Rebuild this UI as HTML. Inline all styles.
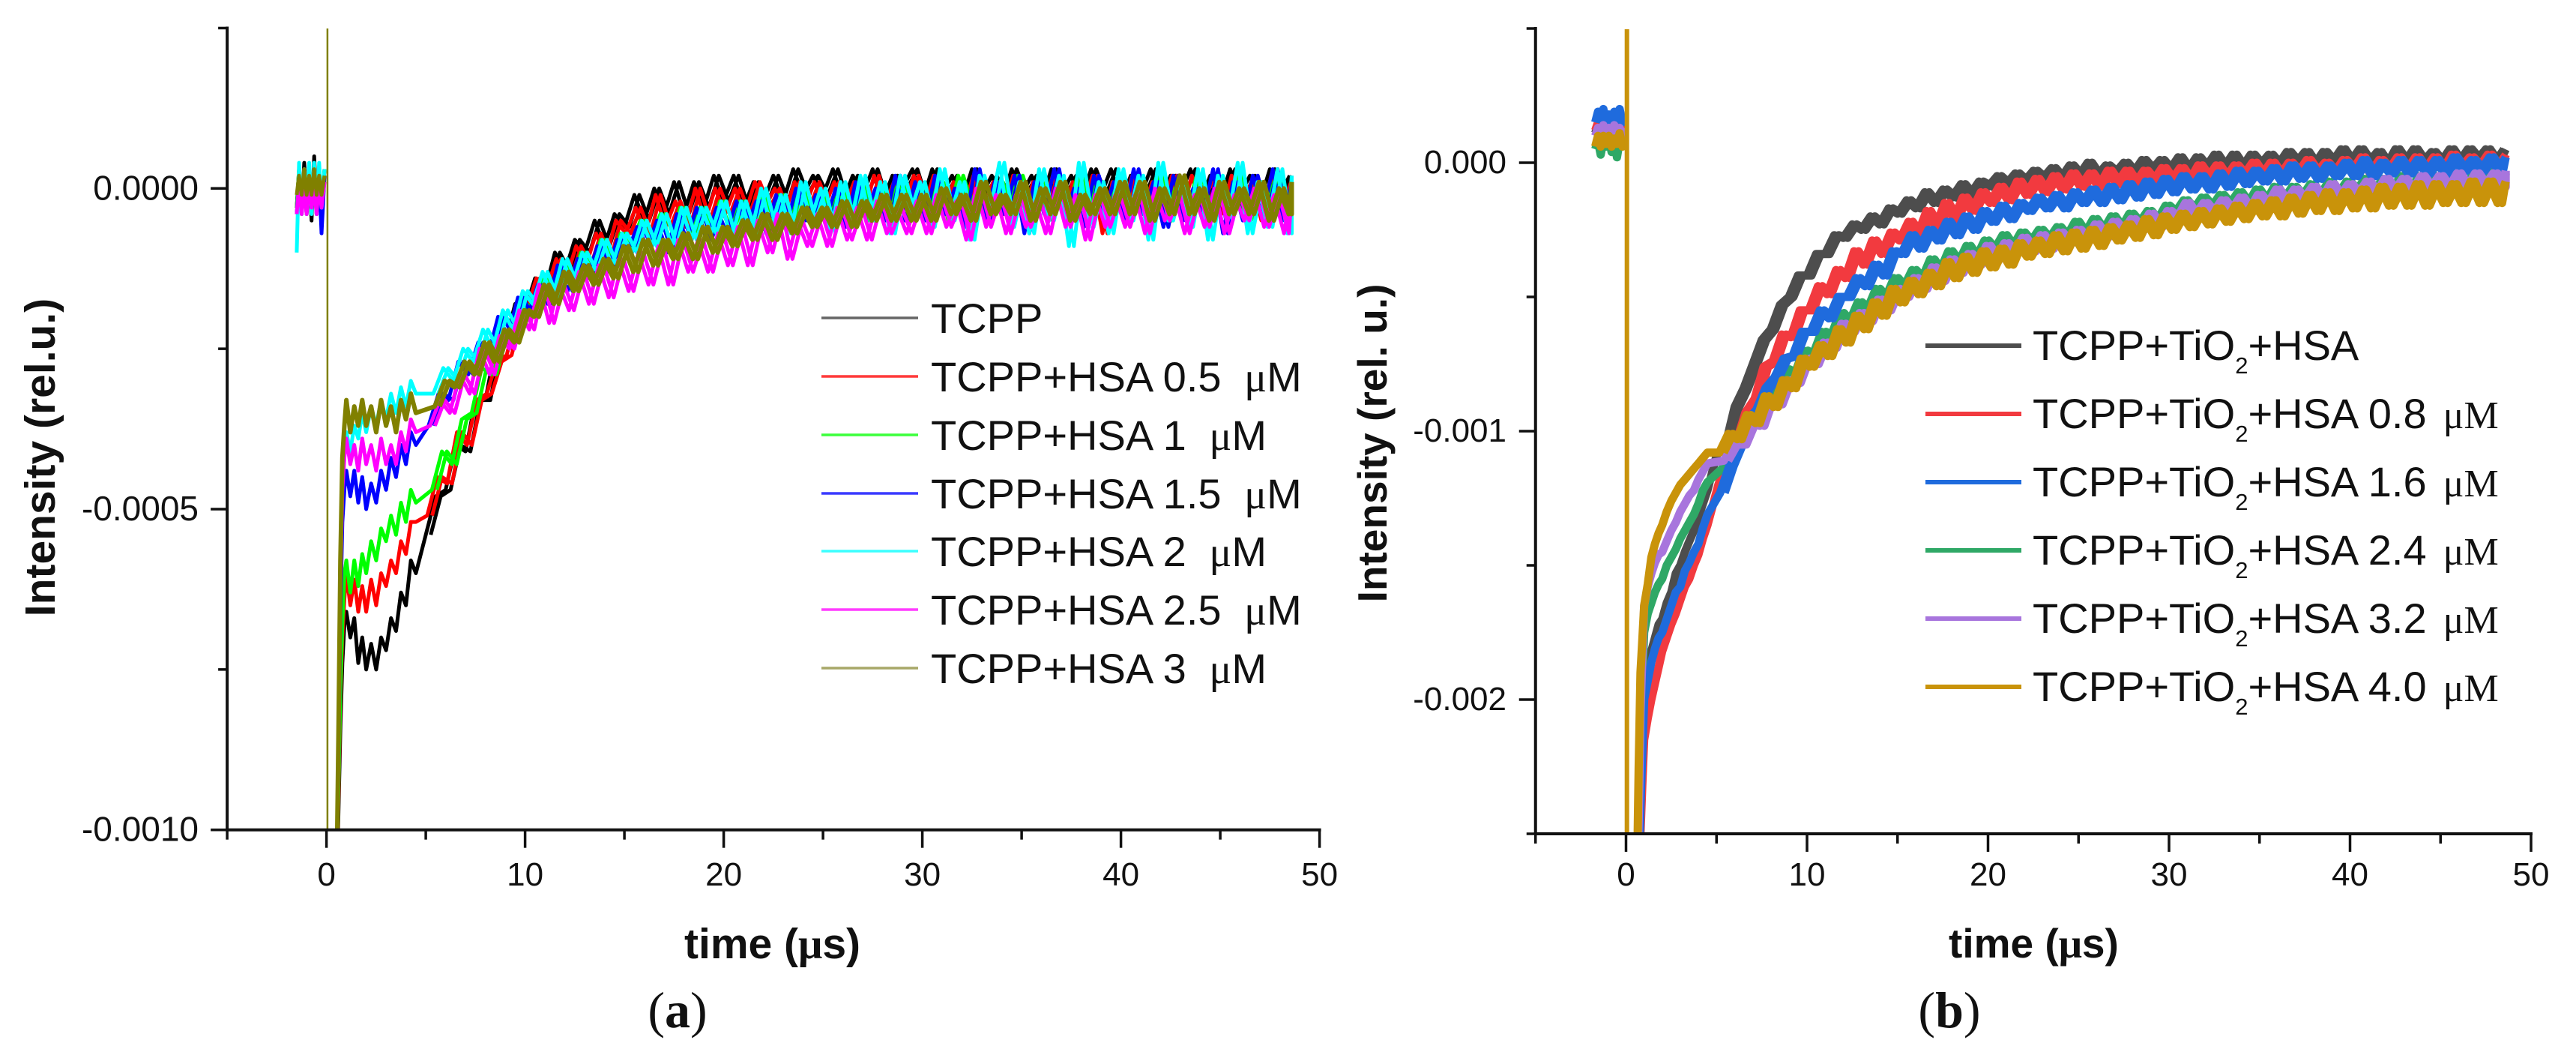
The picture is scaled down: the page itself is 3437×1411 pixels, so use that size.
<!DOCTYPE html>
<html lang="en">
<head>
<meta charset="utf-8">
<title>Transient absorption kinetics of TCPP with HSA</title>
<style>
html,body{margin:0;padding:0;background:#fff;width:3437px;height:1411px;overflow:hidden;}
svg{display:block;}
text{font-family:"Liberation Sans",sans-serif;fill:#111;}
.serif{font-family:"Liberation Serif",serif;}
</style>
</head>
<body>
<svg id="figure" xmlns="http://www.w3.org/2000/svg" width="3437" height="1411" viewBox="0 0 3437 1411">
<defs>
<clipPath id="clip-a"><rect x="304" y="38" width="1457" height="1069"/></clipPath>
<clipPath id="clip-b"><rect x="2048" y="39" width="1330" height="1072"/></clipPath>
</defs>
<g id="marks-a" clip-path="url(#clip-a)"></g>
<g id="marks-b" clip-path="url(#clip-b)"></g>
<g id="axes-a"></g>
<g id="axes-b"></g>

<text transform="translate(73 610) rotate(-90)" text-anchor="middle" font-size="57" font-weight="700">Intensity (rel.u.)</text>
<text x="913" y="1278" font-size="57" font-weight="700">time (<tspan class="serif">μ</tspan>s)</text>
<text x="904" y="1370" text-anchor="middle" font-size="68" class="serif" style="font-family:'Liberation Serif',serif">(<tspan font-weight="700">a</tspan>)</text>

<text transform="translate(1850 591) rotate(-90)" text-anchor="middle" font-size="55" font-weight="700">Intensity (rel. u.)</text>
<text x="2600" y="1277" font-size="55" font-weight="700">time (<tspan class="serif">μ</tspan>s)</text>
<text x="2601" y="1370" text-anchor="middle" font-size="68" class="serif" style="font-family:'Liberation Serif',serif">(<tspan font-weight="700">b</tspan>)</text>

<g font-size="56">
<line x1="1096" x2="1225" y1="424" y2="424" stroke="#666" stroke-width="3.5"/>
<text x="1242" y="444" font-size="56">TCPP</text>
<line x1="1096" x2="1225" y1="502" y2="502" stroke="#ff3a3a" stroke-width="3.5"/>
<text x="1242" y="522" font-size="56">TCPP+HSA 0.5 <tspan class="serif" dx="15">μ</tspan>M</text>
<line x1="1096" x2="1225" y1="580" y2="580" stroke="#3cff3c" stroke-width="3.5"/>
<text x="1242" y="600" font-size="56">TCPP+HSA 1 <tspan class="serif" dx="15">μ</tspan>M</text>
<line x1="1096" x2="1225" y1="658" y2="658" stroke="#3a3aff" stroke-width="3.5"/>
<text x="1242" y="678" font-size="56">TCPP+HSA 1.5 <tspan class="serif" dx="15">μ</tspan>M</text>
<line x1="1096" x2="1225" y1="735" y2="735" stroke="#3cffff" stroke-width="3.5"/>
<text x="1242" y="755" font-size="56">TCPP+HSA 2 <tspan class="serif" dx="15">μ</tspan>M</text>
<line x1="1096" x2="1225" y1="813" y2="813" stroke="#ff3cff" stroke-width="3.5"/>
<text x="1242" y="833" font-size="56">TCPP+HSA 2.5 <tspan class="serif" dx="15">μ</tspan>M</text>
<line x1="1096" x2="1225" y1="891" y2="891" stroke="#a8a868" stroke-width="3.5"/>
<text x="1242" y="911" font-size="56">TCPP+HSA 3 <tspan class="serif" dx="15">μ</tspan>M</text>
</g>

<g>
<line x1="2569" x2="2697" y1="461" y2="461" stroke="#4d4d4d" stroke-width="6"/>
<text x="2712" y="480" font-size="56">TCPP+TiO<tspan font-size="31" dy="18">2</tspan><tspan dy="-18">+HSA</tspan></text>
<line x1="2569" x2="2697" y1="552" y2="552" stroke="#f23a3f" stroke-width="6"/>
<text x="2712" y="571" font-size="56">TCPP+TiO<tspan font-size="31" dy="18">2</tspan><tspan dy="-18">+HSA 0.8</tspan><tspan class="serif" font-size="52" dx="22">μM</tspan></text>
<line x1="2569" x2="2697" y1="643" y2="643" stroke="#1f6bdd" stroke-width="6"/>
<text x="2712" y="662" font-size="56">TCPP+TiO<tspan font-size="31" dy="18">2</tspan><tspan dy="-18">+HSA 1.6</tspan><tspan class="serif" font-size="52" dx="22">μM</tspan></text>
<line x1="2569" x2="2697" y1="734" y2="734" stroke="#2fa866" stroke-width="6"/>
<text x="2712" y="753" font-size="56">TCPP+TiO<tspan font-size="31" dy="18">2</tspan><tspan dy="-18">+HSA 2.4</tspan><tspan class="serif" font-size="52" dx="22">μM</tspan></text>
<line x1="2569" x2="2697" y1="825" y2="825" stroke="#a875dd" stroke-width="6"/>
<text x="2712" y="844" font-size="56">TCPP+TiO<tspan font-size="31" dy="18">2</tspan><tspan dy="-18">+HSA 3.2</tspan><tspan class="serif" font-size="52" dx="22">μM</tspan></text>
<line x1="2569" x2="2697" y1="916" y2="916" stroke="#c9930a" stroke-width="6"/>
<text x="2712" y="935" font-size="56">TCPP+TiO<tspan font-size="31" dy="18">2</tspan><tspan dy="-18">+HSA 4.0</tspan><tspan class="serif" font-size="52" dx="22">μM</tspan></text>
</g>
</svg>

<script>
// Intensity values below are in units of 1e-5 rel.u.; time in microseconds.
const timeUs = [0.5,0.6,0.7,0.8,0.9,1,1.2,1.4,1.6,1.8,2,2.25,2.5,2.75,3,3.25,3.5,3.75,4,4.25,4.5,
5,5.5,6,6.5,7,7.5,8,8.5,9,9.5,
10,10.5,11,11.5,12,12.5,13,13.5,14,14.5,
15,15.5,16,16.5,17,17.5,18,18.5,19,19.5,
20,20.5,21,21.5,22,22.5,23,23.5,24,24.5,
25,25.5,26,26.5,27,27.5,28,28.5,29,29.5,
30,30.5,31,31.5,32,32.5,33,33.5,34,34.5,
35,35.5,36,36.5,37,37.5,38,38.5,39,39.5,
40,40.5,41,41.5,42,42.5,43,43.5,44,44.5,
45,45.5,46,46.5,47,47.5,48,48.5];
const preTimeA = [-1.5,-1.38,-1.25,-1.12,-1,-0.87,-0.75,-0.62,-0.5,-0.37,-0.25,-0.1];
const preTimeB = [-1.7,-1.55,-1.4,-1.25,-1.1,-0.95,-0.8,-0.65,-0.5,-0.35,-0.2,-0.1];

const tcppPre = [-3,3,-4,4,-2,3,-5,5,-3,3,-4,3];
const tcpp = [-110,-98,-84,-74,-68,-66,-70,-67,-74,-70,-75,-71,-75,-70,-72,-67,-69,-63,-65,-58,-60,
-54,-48,-47,-40,-41,-33,-33,-25,-24,-18,
-19,-14,-16,-10,-13,-8,-10,-5,-9,-4,
-6,-1,-5,0,-4,1,-4,1,-3,2,
-2,2,-3,1,-2,2,-2,3,-1,2,
-1,3,-2,2,-1,3,-2,2,0,3,
-2,3,-1,2,-2,3,-1,2,-2,3,
-1,2,-2,3,-1,2,-2,3,-1,3,
-2,2,-1,3,-2,2,-1,3,-2,2,
-2,3,-1,2,-2,3,-1,2];
const hsa05Pre = [-3,2,-3,3,-2,2,-4,3,-3,3,-3,2];
const hsa05 = [-110,-96,-80,-70,-64,-60,-65,-61,-66,-62,-66,-61,-65,-60,-62,-58,-60,-55,-57,-52,-52,
-51,-45,-46,-38,-40,-33,-32,-27,-26,-20,
-19,-14,-16,-11,-14,-9,-12,-7,-11,-5,
-7,-3,-7,-1,-6,-2,-6,0,-5,0,
-4,0,-4,1,-3,0,-4,1,-3,1,
-3,1,-3,1,-4,2,-3,1,-3,2,
-3,2,-4,1,-3,2,-3,1,-4,2,
-5,1,-3,2,-4,1,-3,2,-7,1,
-3,2,-4,1,-3,2,-4,2,-3,1,
-4,2,-3,1,-5,2,-3,1];
const hsa1Pre = [-3,3,-3,2,-4,3,-3,2,-4,3,-3,3];
const hsa1 = [-110,-94,-78,-68,-60,-58,-63,-58,-62,-57,-60,-55,-58,-53,-55,-51,-54,-49,-52,-47,-49,
-47,-41,-43,-36,-35,-28,-29,-23,-24,-18,
-19,-14,-17,-12,-15,-10,-13,-8,-12,-7,
-9,-5,-8,-4,-8,-3,-7,-3,-7,-2,
-6,-2,-6,-1,-5,-1,-5,0,-5,-1,
-5,0,-4,1,-5,0,-3,1,-4,0,
-4,1,-5,2,-3,0,-5,1,-4,2,
-3,1,-5,0,-4,2,-3,1,-5,1,
-4,0,-3,2,-5,1,-4,2,-3,0,
-4,2,-5,1,-3,2,-4,1];
const hsa15Pre = [-4,2,-3,3,-4,2,-3,3,-4,2,-7,2];
const hsa15 = [-110,-90,-66,-52,-47,-44,-48,-44,-49,-45,-50,-46,-49,-44,-47,-42,-45,-40,-43,-38,-40,
-37,-32,-33,-27,-29,-24,-26,-20,-23,-17,
-20,-15,-18,-12,-16,-11,-14,-9,-13,-8,
-10,-6,-9,-5,-10,-4,-8,-3,-8,-3,
-7,-2,-6,-2,-7,-1,-6,0,-5,-1,
-5,0,-6,1,-4,0,-5,2,-5,1,
-5,2,-4,0,-6,3,-5,1,-4,2,
-7,1,-4,3,-5,0,-6,2,-4,1,
-5,3,-4,1,-6,2,-5,0,-4,3,
-7,1,-5,2,-4,3,-5,1];
const hsa2Pre = [-10,4,-4,3,-3,4,-4,4,-3,4,-3,3];
const hsa2 = [-110,-88,-60,-46,-40,-38,-41,-37,-39,-35,-38,-34,-37,-33,-36,-32,-35,-31,-34,-30,-32,
-32,-28,-30,-25,-27,-22,-25,-19,-22,-16,
-18,-13,-17,-11,-15,-10,-13,-8,-12,-7,
-10,-5,-9,-4,-9,-3,-8,-3,-7,-2,
-8,-2,-7,0,-6,-1,-7,1,-5,0,
-7,1,-6,2,-5,1,-7,2,-4,1,
-6,3,-5,1,-8,2,-4,4,-6,1,
-7,3,-5,2,-9,4,-6,1,-7,3,
-5,2,-8,4,-5,1,-6,3,-8,2,
-5,4,-7,1,-6,3,-7,2];
const hsa25Pre = [-4,1,-4,0,-4,1,-3,0,-4,1,-3,1];
const hsa25 = [-110,-88,-62,-47,-42,-39,-43,-40,-44,-39,-43,-40,-44,-39,-43,-40,-43,-38,-41,-36,-38,
-37,-33,-35,-29,-32,-25,-29,-23,-25,-19,
-22,-15,-21,-15,-19,-13,-18,-12,-17,-11,
-16,-10,-15,-9,-15,-8,-13,-8,-13,-7,
-12,-6,-12,-5,-10,-4,-11,-5,-9,-4,
-9,-3,-8,-3,-8,-2,-7,-3,-7,-2,
-7,-1,-6,-2,-8,0,-6,-1,-7,-1,
-6,-2,-7,0,-6,-1,-8,-1,-6,-1,
-6,-1,-7,0,-5,-1,-7,-1,-6,0,
-7,-1,-5,0,-6,-1,-7,0];
const hsa3Pre = [-1,2,-1,3,-1,2,-1,3,-1,2,-1,2];
const hsa3 = [-110,-86,-58,-42,-37,-33,-38,-34,-37,-33,-37,-34,-38,-33,-37,-34,-38,-33,-36,-32,-35,
-34,-30,-31,-27,-29,-24,-27,-22,-24,-19,
-20,-15,-18,-13,-16,-12,-15,-11,-14,-9,
-13,-8,-12,-8,-11,-7,-11,-6,-10,-6,
-9,-5,-8,-4,-8,-4,-7,-3,-6,-3,
-6,-2,-6,-2,-5,-1,-5,-1,-5,-1,
-5,0,-4,-1,-5,1,-4,-1,-4,1,
-5,0,-4,1,-5,-1,-4,0,-4,1,
-4,1,-5,0,-4,2,-4,0,-5,1,
-4,0,-4,1,-5,0,-4,1];

const tioPre = [11,14,11,14,12,13,11,14,12,13,11,14];
const tio = [-270,-270,-265,-235,-212,-195,-188,-182,-177,-172,-170,-164,-160,-153,-150,-145,-141,-137,-132,-127,-122,
-109,-105,-91,-84,-75,-66,-62,-53,-50,-42,
-42,-34,-34,-27,-28,-23,-25,-20,-23,-17,
-19,-14,-17,-11,-15,-10,-13,-8,-12,-7,
-9,-5,-8,-4,-7,-3,-6,-2,-6,-1,
-5,0,-5,-1,-4,0,-4,1,-3,1,
-3,2,-3,2,-2,3,-2,3,-2,3,
-1,3,-1,4,0,4,-1,4,0,5,
0,5,0,4,-1,5,0,5,0,4,
0,5,0,5,1,5,0,5];
const tio08Pre = [12,15,12,14,13,15,12,16,12,14,12,15];
const tio08 = [-270,-270,-268,-250,-232,-215,-207,-200,-194,-188,-182,-177,-172,-168,-163,-158,-155,-150,-146,-140,-135,
-120,-110,-104,-93,-88,-76,-74,-64,-65,-55,
-55,-46,-49,-40,-43,-33,-38,-29,-34,-26,
-29,-22,-27,-18,-24,-15,-21,-13,-18,-11,
-15,-9,-14,-7,-12,-6,-11,-5,-10,-4,
-9,-4,-9,-3,-8,-3,-8,-3,-7,-2,
-7,-2,-7,-1,-6,-1,-6,-1,-5,0,
-5,0,-5,0,-4,1,-4,0,-4,1,
-3,2,-4,1,-3,2,-3,2,-3,2,
-3,3,-2,2,-2,3,-2,3];
const tio16Pre = [15,19,16,20,15,18,16,19,16,20,15,18];
const tio16 = [-270,-270,-268,-240,-220,-200,-193,-186,-181,-177,-175,-170,-165,-160,-158,-152,-149,-145,-142,-136,-131,
-123,-113,-105,-96,-92,-84,-80,-73,-72,-63,
-63,-55,-58,-50,-50,-43,-46,-38,-42,-33,
-34,-27,-32,-25,-29,-22,-27,-20,-25,-18,
-22,-16,-21,-15,-18,-13,-17,-12,-17,-11,
-15,-10,-15,-9,-14,-8,-13,-7,-12,-6,
-11,-5,-10,-5,-10,-4,-9,-3,-8,-3,
-7,-2,-7,-1,-6,-1,-6,-1,-5,0,
-5,1,-5,0,-4,1,-4,1,-4,1,
-4,2,-3,1,-3,2,-3,2];
const tio24Pre = [5,8,3,8,6,9,4,8,2,8,6,9];
const tio24 = [-270,-270,-250,-215,-195,-175,-168,-164,-160,-157,-155,-150,-147,-144,-140,-137,-134,-131,-127,-122,-119,
-114,-107,-103,-95,-95,-85,-87,-77,-79,-70,
-72,-63,-65,-56,-60,-52,-55,-47,-51,-43,
-47,-40,-44,-36,-41,-33,-38,-31,-36,-29,
-33,-27,-32,-26,-30,-25,-29,-24,-28,-22,
-27,-21,-26,-20,-25,-19,-23,-18,-22,-16,
-19,-14,-18,-13,-17,-12,-16,-11,-16,-10,
-15,-9,-14,-9,-13,-8,-13,-7,-12,-7,
-11,-6,-11,-6,-10,-5,-10,-5,-10,-5,
-10,-4,-10,-4,-9,-3,-9,-4];
const tio32Pre = [10,13,10,14,11,13,10,14,11,13,10,13];
const tio32 = [-270,-270,-245,-205,-185,-165,-158,-153,-149,-146,-145,-141,-137,-134,-130,-127,-124,-122,-118,-115,-112,
-111,-105,-105,-97,-98,-88,-90,-81,-82,-73,
-75,-67,-69,-60,-63,-56,-59,-51,-55,-47,
-50,-43,-47,-39,-44,-36,-41,-34,-38,-31,
-36,-30,-34,-28,-33,-27,-32,-26,-30,-25,
-29,-23,-28,-22,-26,-21,-25,-19,-24,-18,
-21,-15,-20,-15,-19,-14,-18,-13,-18,-12,
-16,-10,-15,-10,-14,-9,-14,-8,-13,-8,
-12,-7,-12,-6,-11,-6,-11,-5,-10,-5,
-10,-4,-10,-4,-9,-4,-9,-3];
const tio40Pre = [6,10,6,10,7,10,6,9,7,11,6,9];
const tio40 = [-270,-270,-225,-190,-178,-165,-157,-147,-142,-138,-135,-130,-126,-123,-120,-118,-116,-114,-112,-110,-108,
-108,-101,-103,-94,-97,-87,-91,-81,-84,-73,
-76,-68,-72,-62,-67,-57,-62,-52,-57,-47,
-52,-44,-49,-41,-46,-37,-43,-35,-41,-33,
-39,-32,-38,-30,-35,-29,-34,-27,-33,-26,
-32,-25,-31,-24,-29,-23,-28,-21,-27,-20,
-25,-19,-24,-18,-23,-17,-22,-16,-21,-15,
-20,-14,-20,-13,-19,-12,-18,-11,-18,-11,
-17,-10,-17,-9,-16,-9,-16,-8,-16,-8,
-15,-8,-15,-7,-15,-7,-15,-7];

const spikeTime = [0.05,0.05];
const spikeA = [25,-100];
const spikeB = [50,-250];

const xTickValues = [-5,0,5,10,15,20,25,30,35,40,45,50];
const xMajorLabels = ["0","10","20","30","40","50"];
const yTicksA = [25,0,-25,-50,-75,-100];
const yLabelsA = ["","0.0000","","-0.0005","","-0.0010"];
const yTicksB = [50,0,-50,-100,-150,-200,-250];
const yLabelsB = ["","0.000","","-0.001","","-0.002",""];

const NS = "http://www.w3.org/2000/svg";
const xA = t => 435.6 + 26.5 * t;
const yA = v => 251.3 - 8.554 * v;
const xB = t => 2169.5 + 24.15 * t;
const yB = v => 217 - 3.58 * v;
const lastSampleUs = 48.6;

function makeEl(parent, tag, attrs) {
  const el = document.createElementNS(NS, tag);
  for (const k in attrs) el.setAttribute(k, attrs[k]);
  parent.appendChild(el);
  return el;
}

// Each trace is sampled on its own slightly shifted acquisition phase after 5 µs,
// and a second pass a quarter-step later densifies the noise band.
function drawTrace(parent, name, xs, ys, xf, yf, color, width, phase) {
  let d = "";
  const n = Math.min(xs.length, ys.length);
  for (let i = 0; i < n; i++) {
    const t = xs[i] < 5 ? xs[i] : Math.min(xs[i] + phase, lastSampleUs);
    d += (i ? "L" : "M") + xf(t).toFixed(1) + " " + yf(ys[i]).toFixed(1);
  }
  let started = false;
  for (let i = 0; i < n; i++) {
    if (xs[i] < 5) continue;
    const t = Math.min(xs[i] + phase + 0.25, lastSampleUs);
    d += (started ? "L" : "M") + xf(t).toFixed(1) + " " + yf(ys[i]).toFixed(1);
    started = true;
  }
  const p = makeEl(parent, "path", {d: d, fill: "none", stroke: color, "stroke-width": width, "stroke-linejoin": "round"});
  
  
}

function drawAxes(parent, prefix, xf, yf, yTicks, yLabels, xTop, yBottom, labelRight, labelDy, tickFont) {
  const x0 = xf(-5), x1 = xf(50), yTop = yf(yTicks[0]);
  const yAxis = makeEl(parent, "line", {x1: x0, x2: x0, y1: yTop - 2, y2: yBottom, stroke: "#111", "stroke-width": 4});
  
  
  const xAxis = makeEl(parent, "line", {x1: x0 - 2, x2: x1 + 2, y1: yBottom, y2: yBottom, stroke: "#111", "stroke-width": 4});
  
  
  yTicks.forEach((v, i) => {
    const major = yLabels[i] !== "";
    const len = major ? 22 : 12;
    const y = yf(v);
    const tick = makeEl(parent, "line", {x1: x0 - len, x2: x0, y1: y, y2: y, stroke: "#111", "stroke-width": 3.5});
    
    
    if (major) {
      const lab = makeEl(parent, "text", {x: labelRight, y: y + labelDy, "text-anchor": "end", "font-size": tickFont});
      lab.textContent = yLabels[i];
      
      
    }
  });
  let labelIndex = 0;
  xTickValues.forEach(t => {
    const major = t >= 0 && t % 10 === 0;
    const x = xf(t);
    const tick = makeEl(parent, "line", {x1: x, x2: x, y1: yBottom, y2: yBottom + (major ? 24 : 13), stroke: "#111", "stroke-width": 3.5});
    
    
    if (major) {
      const lab = makeEl(parent, "text", {x: x, y: 1181, "text-anchor": "middle", "font-size": 44});
      lab.textContent = xMajorLabels[labelIndex++];
      
      
    }
  });
}

const marksA = document.getElementById("marks-a");
const marksB = document.getElementById("marks-b");

const WA = 5, WB = 11;
drawTrace(marksA, "trace-tcpp-pre", preTimeA, tcppPre, xA, yA, "#000", WA, 0);
drawTrace(marksA, "trace-tcpp", timeUs, tcpp, xA, yA, "#000", WA, 0);
drawTrace(marksA, "trace-hsa-0-5-pre", preTimeA, hsa05Pre, xA, yA, "#f00", WA, 0);
drawTrace(marksA, "trace-hsa-0-5", timeUs, hsa05, xA, yA, "#f00", WA, 0.07);
drawTrace(marksA, "trace-hsa-1-pre", preTimeA, hsa1Pre, xA, yA, "#0f0", WA, 0);
drawTrace(marksA, "trace-hsa-1", timeUs, hsa1, xA, yA, "#0f0", WA, 0.31);
drawTrace(marksA, "trace-hsa-1-5-pre", preTimeA, hsa15Pre, xA, yA, "#00f", WA, 0);
drawTrace(marksA, "trace-hsa-1-5", timeUs, hsa15, xA, yA, "#00f", WA, 0.14);
drawTrace(marksA, "trace-hsa-2-pre", preTimeA, hsa2Pre, xA, yA, "#0ff", WA, 0);
drawTrace(marksA, "trace-hsa-2", timeUs, hsa2, xA, yA, "#0ff", WA, 0.38);
drawTrace(marksA, "trace-hsa-2-5-pre", preTimeA, hsa25Pre, xA, yA, "#f0f", WA, 0);
drawTrace(marksA, "trace-hsa-2-5", timeUs, hsa25, xA, yA, "#f0f", WA, 0.21);
drawTrace(marksA, "trace-hsa-3-pre", preTimeA, hsa3Pre, xA, yA, "#808000", WA, 0);
drawTrace(marksA, "trace-hsa-3", timeUs, hsa3, xA, yA, "#808000", 6, 0.45);
drawTrace(marksA, "laser-spike-a", spikeTime, spikeA, xA, yA, "#808000", 2.5, 0);

drawTrace(marksB, "trace-tio2-hsa-pre", preTimeB, tioPre, xB, yB, "#4d4d4d", WB, 0);
drawTrace(marksB, "trace-tio2-hsa", timeUs, tio, xB, yB, "#4d4d4d", WB, 0);
drawTrace(marksB, "trace-tio2-hsa-0-8-pre", preTimeB, tio08Pre, xB, yB, "#f23a3f", WB, 0);
drawTrace(marksB, "trace-tio2-hsa-0-8", timeUs, tio08, xB, yB, "#f23a3f", WB, 0.1);
drawTrace(marksB, "trace-tio2-hsa-2-4-pre", preTimeB, tio24Pre, xB, yB, "#2fa866", WB, 0);
drawTrace(marksB, "trace-tio2-hsa-2-4", timeUs, tio24, xB, yB, "#2fa866", WB, 0.3);
drawTrace(marksB, "trace-tio2-hsa-1-6-pre", preTimeB, tio16Pre, xB, yB, "#1f6bdd", WB, 0);
drawTrace(marksB, "trace-tio2-hsa-1-6", timeUs, tio16, xB, yB, "#1f6bdd", WB, 0.2);
drawTrace(marksB, "trace-tio2-hsa-3-2-pre", preTimeB, tio32Pre, xB, yB, "#a875dd", WB, 0);
drawTrace(marksB, "trace-tio2-hsa-3-2", timeUs, tio32, xB, yB, "#a875dd", WB, 0.4);
drawTrace(marksB, "trace-tio2-hsa-4-0-pre", preTimeB, tio40Pre, xB, yB, "#c9930a", WB, 0);
drawTrace(marksB, "trace-tio2-hsa-4-0", timeUs, tio40, xB, yB, "#c9930a", WB, 0.15);
drawTrace(marksB, "laser-spike-b", spikeTime, spikeB, xB, yB, "#c9930a", 6, 0);

drawAxes(document.getElementById("axes-a"), "panel-a", xA, yA, yTicksA, yLabelsA, 38, yA(-100), 265, 15, 46);
drawAxes(document.getElementById("axes-b"), "panel-b", xB, yB, yTicksB, yLabelsB, 39, yB(-250), 2010, 14, 44);
</script>
</body>
</html>
